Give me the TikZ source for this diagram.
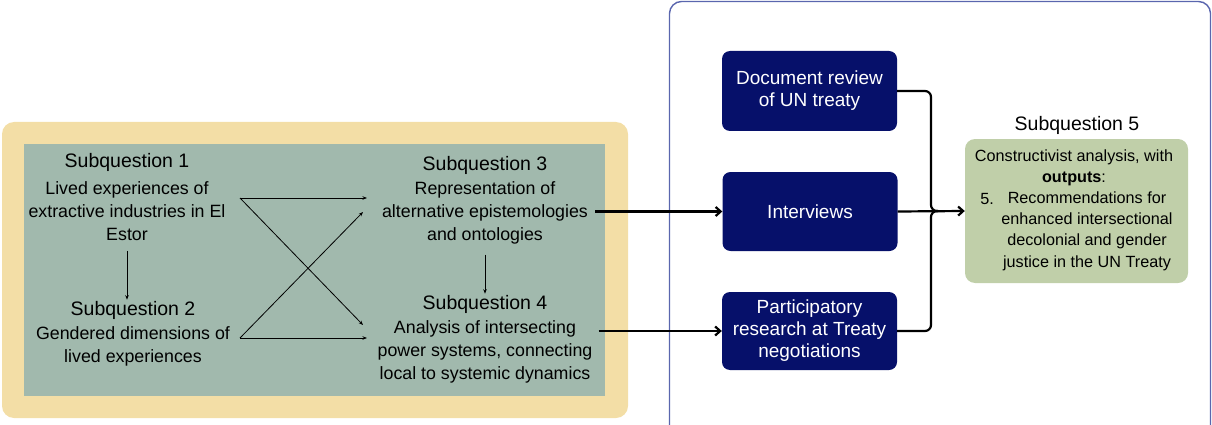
\documentclass[tikz,border=0pt]{standalone}
\usepackage{fontspec}
\setmainfont{Liberation Sans}
\usetikzlibrary{arrows.meta}
\definecolor{sand}{HTML}{F3DEA6}
\definecolor{sage}{HTML}{A1B9AD}
\definecolor{navy}{HTML}{06106A}
\definecolor{moss}{HTML}{C0CFA9}
\definecolor{framecol}{HTML}{5A66AE}
\begin{document}
\begin{tikzpicture}[x=1pt,y=-1pt,
	sqtitle/.style={inner sep=1pt,font=\fontsize{19.5}{22}\selectfont},
	sqtext/.style={inner sep=1pt,align=center,font=\fontsize{17.8}{23.2}\selectfont},
	outtext/.style={inner sep=1pt,align=center,font=\fontsize{16.2}{21.3}\selectfont},
	method/.style={fill=navy,text=white,rounded corners=8pt,minimum width=175pt,align=center,font=\fontsize{19}{22}\selectfont},
	linkarrow/.style={line width=0.8pt,-{Stealth[length=4.5pt,width=3.5pt]}},
	flowarrow/.style={line width=2.2pt,-{Straight Barb[length=5pt,width=9pt]}}]
		\useasboundingbox (0,0) rectangle (1212,425);
		\clip (0,0) rectangle (1212,425);
			\fill[sand,rounded corners=12pt] (2,122) rectangle (628,418);
			\fill[sage] (24,144) rectangle (605,396);
			\draw[framecol,line width=1.4pt,rounded corners=12pt] (669.5,1.5) rectangle (1210.5,450);
				\node[sqtitle] (sq1) at (127,162) {Subquestion 1};
				\node[sqtext] (sq1text) at (127,211) {Lived experiences of\\extractive industries in El\\Estor};
				\node[sqtitle] (sq2) at (133,310) {Subquestion 2};
				\node[sqtext] (sq2text) at (133,346.5) {Gendered dimensions of\\lived experiences};
				\node[sqtitle] (sq3) at (485,165) {Subquestion 3};
				\node[sqtext] (sq3text) at (485,213) {Representation of\\alternative epistemologies\\and ontologies};
				\node[sqtitle] (sq4) at (485,304) {Subquestion 4};
				\node[sqtext] (sq4text) at (485,352) {Analysis of intersecting\\power systems, connecting\\local to systemic dynamics};
				\draw[linkarrow,shorten <=9pt] (sq1text.south) -- (sq1text.south |- sq2.north);
				\draw[linkarrow,shorten <=9pt] (sq3text.south) -- (sq3text.south |- sq4.north);
				\coordinate (from1) at (240,198);
				\coordinate (from2) at (240,338);
				\coordinate (to3) at (367,198);
				\coordinate (to3b) at (363,212);
				\coordinate (to4a) at (363,325);
				\coordinate (to4) at (367,338);
				\draw[linkarrow] (from1) -- (to3);
				\draw[linkarrow] (from1) -- (to4a);
				\draw[linkarrow] (from2) -- (to3b);
				\draw[linkarrow] (from2) -- (to4);
			\node[method,minimum height=80pt] (docrev) at (809.5,91) {Document review\\of UN treaty};
			\node[method,minimum height=79pt] (interviews) at (810,211.5) {Interviews};
			\node[method,minimum height=78pt] (particip) at (809.5,331) {Participatory\\research at Treaty\\negotiations};
				\draw[flowarrow] ([xshift=6pt]sq3text.east |- interviews.west) -- (interviews.west);
				\draw[flowarrow] ([xshift=5pt]sq4text.east |- particip.west) -- (particip.west);
			\node[sqtitle] (sq5) at (1077,125) {Subquestion 5};
			\node[fill=moss,rounded corners=10pt,minimum width=223pt,minimum height=144pt] (sq5box) at (1076.5,211) {};
				\node[outtext] (sq5head) at (1074,167.5) {Constructivist analysis, with\\\textbf{outputs}:};
				\node[outtext] (sq5num) at (987,199) {5.};
				\node[outtext] (sq5list) at (1087,231) {Recommendations for\\enhanced intersectional\\decolonial and gender\\justice in the UN Treaty};
				\coordinate (bend) at (931,211);
				\coordinate (merge) at (938,211);
				\draw[line width=2.2pt,rounded corners=6pt] (docrev.east) -| (bend) -- (merge);
				\draw[line width=2.2pt,rounded corners=6pt] (particip.east) -| (bend) -- (merge);
				\draw[flowarrow] (interviews.east) -- (sq5box.west);
\end{tikzpicture}
\end{document}
